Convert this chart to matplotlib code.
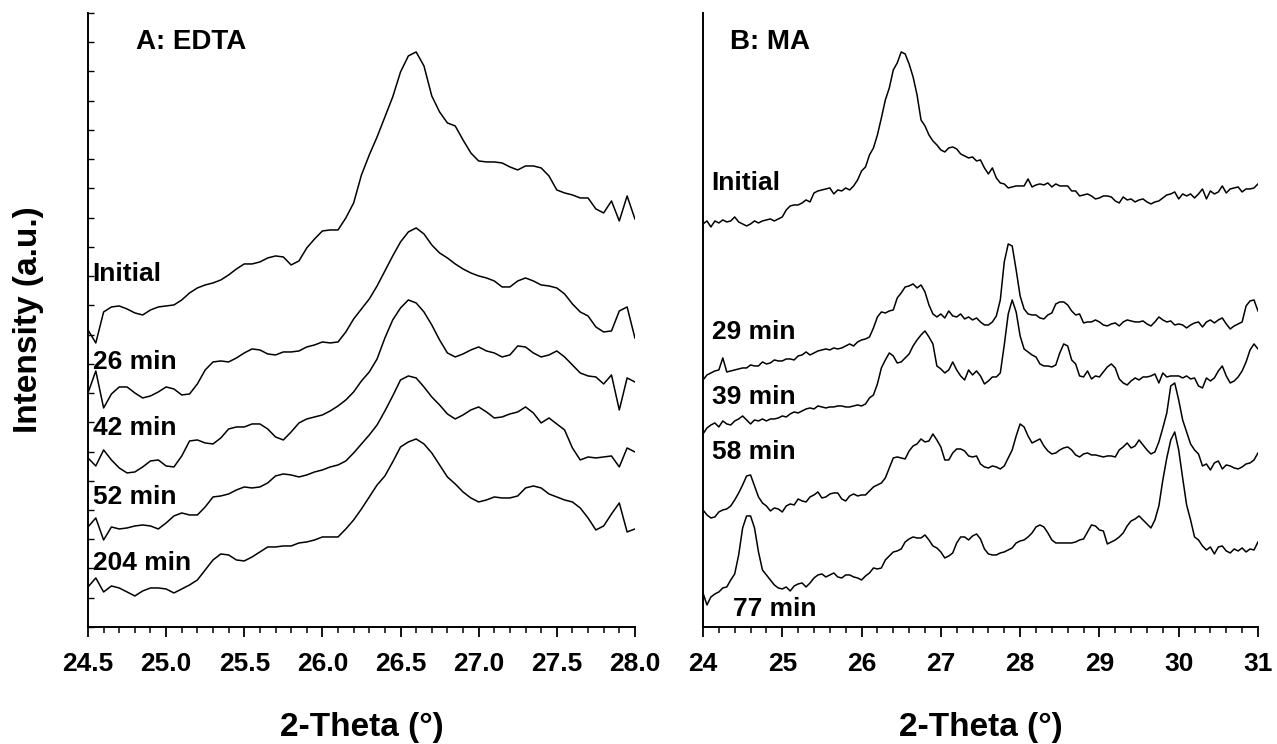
import numpy as np
import matplotlib
matplotlib.use('Agg')
import matplotlib.pyplot as plt
from matplotlib.ticker import MultipleLocator, FormatStrFormatter

plt.rcParams['font.family'] = ['Liberation Sans', 'DejaVu Sans']
plt.rcParams['font.weight'] = 'bold'

# A: EDTA, 2-theta 24.5-28.0 in 0.05 steps
theta_edta = np.linspace(24.5, 28.0, 71)
edta_initial = [297, 284, 315, 320, 321, 318, 314, 312, 317, 320,
                321, 322, 327, 334, 339, 342, 344, 347, 352, 358,
                363, 363, 365, 369, 371, 370, 362, 366, 379, 388,
                396, 397, 397, 409, 424, 452, 472, 490, 510, 530,
                555, 571, 575, 561, 531, 515, 504, 501, 487, 474,
                466, 465, 465, 464, 460, 457, 461, 461, 459, 451,
                437, 434, 432, 429, 429, 418, 414, 426, 406, 431, 408]
edta_26 = [234, 256, 219, 233, 240, 240, 234, 229, 231, 235,
           240, 238, 232, 233, 243, 257, 265, 266, 265, 269,
           274, 278, 277, 273, 272, 275, 275, 276, 280, 282,
           285, 284, 285, 295, 308, 318, 328, 341, 356, 371,
           385, 395, 399, 393, 382, 374, 369, 363, 358, 354,
           351, 349, 346, 340, 340, 346, 349, 346, 342, 341,
           339, 333, 323, 315, 311, 300, 295, 296, 316, 320, 289]
edta_42 = [169, 161, 177, 167, 159, 154, 155, 160, 166, 167,
           161, 160, 171, 186, 187, 184, 183, 189, 198, 200,
           200, 203, 203, 198, 190, 187, 195, 204, 208, 210,
           212, 216, 221, 227, 235, 246, 255, 268, 289, 307,
           319, 327, 324, 315, 302, 287, 274, 270, 273, 277,
           280, 276, 274, 270, 272, 281, 280, 274, 270, 272,
           276, 270, 262, 254, 251, 250, 243, 252, 217, 249, 245]
edta_52 = [100, 109, 87, 100, 98, 99, 101, 102, 101, 98,
           104, 111, 114, 112, 112, 120, 130, 131, 133, 137,
           140, 139, 140, 144, 151, 153, 152, 150, 152, 155,
           157, 160, 162, 166, 174, 183, 192, 202, 216, 231,
           247, 251, 249, 240, 230, 222, 213, 208, 212, 217,
           220, 215, 209, 210, 213, 215, 220, 214, 204, 209,
           203, 197, 179, 167, 170, 169, 170, 171, 160, 179, 175]
edta_204 = [40, 49, 35, 41, 39, 35, 31, 36, 39, 39,
            38, 34, 38, 42, 47, 57, 67, 73, 72, 67,
            66, 70, 75, 80, 80, 81, 81, 84, 85, 87,
            90, 90, 90, 98, 107, 118, 130, 142, 151, 165,
            180, 185, 188, 183, 174, 162, 150, 143, 135, 129,
            125, 127, 130, 129, 129, 131, 139, 141, 139, 133,
            130, 127, 125, 119, 109, 97, 101, 113, 124, 95, 98]

# B: MA, 2-theta 24-31 in 0.05 steps
theta_ma = np.linspace(24.0, 31.0, 141)
ma_initial = [403, 406, 400, 406, 404, 407, 405, 406, 410, 405,
              403, 401, 403, 406, 404, 406, 407, 408, 406, 408,
              410, 417, 421, 422, 422, 424, 427, 425, 434, 436,
              437, 438, 439, 433, 437, 436, 439, 437, 441, 447,
              456, 460, 472, 479, 492, 509, 527, 539, 557, 564,
              575, 573, 563, 550, 532, 507, 501, 492, 486, 482,
              477, 475, 479, 480, 478, 473, 471, 469, 470, 466,
              467, 459, 453, 459, 449, 444, 443, 439, 440, 441,
              441, 441, 448, 440, 442, 443, 442, 444, 440, 443,
              441, 441, 441, 436, 436, 431, 432, 433, 431, 428,
              429, 431, 431, 430, 426, 424, 430, 427, 428, 425,
              427, 428, 425, 423, 425, 426, 429, 432, 433, 435,
              428, 433, 431, 433, 429, 433, 438, 428, 436, 433,
              435, 441, 434, 438, 439, 440, 435, 438, 438, 439, 443]
ma_29 = [247, 252, 254, 256, 257, 269, 255, 256, 257, 258,
         259, 259, 262, 261, 261, 265, 263, 264, 267, 266,
         266, 268, 268, 267, 271, 272, 275, 272, 274, 276,
         277, 278, 277, 279, 278, 279, 281, 283, 281, 285,
         287, 288, 290, 299, 310, 315, 314, 316, 317, 329,
         334, 340, 341, 343, 339, 342, 335, 322, 313, 310,
         313, 309, 316, 311, 310, 313, 308, 310, 307, 309,
         305, 302, 302, 305, 311, 327, 365, 383, 381, 357,
         331, 318, 313, 312, 312, 309, 308, 312, 314, 323,
         325, 325, 322, 316, 312, 313, 304, 305, 305, 307,
         305, 302, 301, 303, 304, 301, 305, 307, 306, 305,
         305, 306, 303, 301, 305, 310, 307, 305, 306, 302,
         303, 302, 299, 302, 304, 305, 300, 305, 307, 304,
         307, 309, 303, 298, 301, 303, 305, 321, 326, 327, 316]
ma_39 = [193, 199, 202, 204, 200, 206, 203, 202, 206, 208,
         211, 207, 203, 207, 206, 208, 206, 208, 208, 209,
         211, 210, 213, 215, 214, 216, 218, 219, 218, 221,
         220, 219, 220, 220, 221, 221, 220, 220, 221, 222,
         221, 223, 229, 232, 243, 259, 267, 274, 271, 264,
         265, 269, 273, 281, 287, 292, 296, 290, 283, 261,
         258, 254, 257, 265, 257, 251, 247, 257, 252, 256,
         251, 243, 246, 250, 250, 254, 282, 313, 327, 315,
         291, 278, 275, 272, 270, 263, 261, 261, 260, 262,
         274, 283, 281, 267, 263, 251, 250, 256, 248, 251,
         250, 255, 260, 263, 259, 248, 244, 242, 246, 249,
         247, 250, 250, 251, 253, 244, 254, 250, 251, 251,
         251, 249, 251, 248, 249, 241, 239, 249, 246, 249,
         256, 261, 251, 244, 246, 250, 256, 265, 277, 283, 278]
ma_58 = [117, 112, 109, 110, 115, 117, 118, 121, 127, 134,
         142, 151, 152, 141, 130, 124, 121, 116, 119, 118,
         115, 121, 123, 122, 128, 126, 125, 130, 132, 135,
         129, 130, 133, 134, 134, 128, 126, 131, 133, 131,
         132, 132, 136, 140, 142, 144, 149, 159, 169, 170,
         169, 168, 176, 181, 183, 188, 185, 186, 193, 187,
         180, 167, 167, 174, 178, 178, 176, 171, 170, 171,
         163, 160, 159, 161, 160, 158, 161, 169, 177, 191,
         203, 200, 191, 184, 186, 188, 181, 176, 173, 174,
         177, 179, 180, 177, 172, 170, 173, 174, 172, 172,
         171, 170, 171, 171, 170, 177, 180, 184, 179, 181,
         187, 182, 177, 173, 175, 185, 199, 214, 241, 244,
         227, 207, 195, 183, 177, 173, 161, 163, 157, 164,
         166, 158, 162, 161, 159, 158, 160, 163, 164, 167, 174]
ma_77 = [34, 22, 30, 33, 35, 39, 40, 47, 53, 72,
         99, 111, 111, 99, 75, 57, 52, 47, 42, 39,
         38, 40, 36, 41, 43, 44, 40, 44, 49, 52,
         53, 50, 52, 54, 50, 49, 52, 52, 50, 49,
         47, 51, 54, 59, 58, 59, 67, 71, 75, 76,
         78, 85, 88, 90, 89, 89, 92, 87, 81, 79,
         75, 69, 71, 74, 84, 90, 90, 87, 91, 93,
         88, 78, 73, 72, 72, 74, 75, 77, 79, 84,
         86, 87, 90, 94, 100, 102, 100, 94, 87, 84,
         84, 84, 84, 84, 85, 87, 88, 95, 102, 101,
         97, 96, 83, 85, 87, 90, 94, 101, 106, 108,
         111, 107, 103, 99, 107, 121, 147, 169, 187, 195,
         177, 149, 122, 107, 90, 87, 81, 77, 80, 73,
         80, 81, 76, 74, 78, 76, 79, 75, 78, 77, 85]

edta_series = [edta_initial, edta_26, edta_42, edta_52, edta_204]
edta_names = ['Initial', '26 min', '42 min', '52 min', '204 min']
edta_label_y = [353, 265, 199, 130, 64]

ma_series = [ma_initial, ma_29, ma_39, ma_58, ma_77]
ma_names = ['Initial', '29 min', '39 min', '58 min', '77 min']
ma_label_xy = [(24.11, 444), (24.11, 295), (24.11, 230), (24.11, 175), (24.38, 18)]

YMAX = 614

fig = plt.figure(figsize=(12.77, 7.44), dpi=100)
ax1 = fig.add_axes([0.0689, 0.1573, 0.4283, 0.8253])
ax2 = fig.add_axes([0.5505, 0.1573, 0.4346, 0.8253])

for ax in (ax1, ax2):
    ax.spines['top'].set_visible(False)
    ax.spines['right'].set_visible(False)
    ax.spines['left'].set_linewidth(1.4)
    ax.spines['bottom'].set_linewidth(1.4)
    ax.set_ylim(0, YMAX)
    ax.tick_params(axis='x', which='major', direction='out', length=7,
                   width=1.3, labelsize=19, pad=11)
    ax.tick_params(axis='x', which='minor', direction='out', length=4.5,
                   width=1.1)
    ax.set_xlabel('2-Theta (°)', fontsize=24, fontweight='bold', va='center')
    ax.xaxis.set_label_coords(0.5, -0.163)

# A: EDTA
for y in edta_series:
    ax1.plot(theta_edta, y, color='black', lw=1.1)
for name, ly in zip(edta_names, edta_label_y):
    ax1.text(24.53, ly, name, fontsize=19, fontweight='bold', va='center', ha='left')
ax1.text(24.81, 585, 'A: EDTA', fontsize=20, fontweight='bold', va='center', ha='left')

ax1.set_xlim(24.5, 28.0)
ax1.xaxis.set_major_locator(MultipleLocator(0.5))
ax1.xaxis.set_minor_locator(MultipleLocator(0.1))
ax1.xaxis.set_major_formatter(FormatStrFormatter('%.1f'))
ax1.set_yticks(np.linspace(0, YMAX, 22))
ax1.set_yticklabels([])
ax1.tick_params(axis='y', direction='in', length=4, width=1.0)
ax1.set_ylabel('Intensity (a.u.)', fontsize=24, fontweight='bold', labelpad=28)

# B: MA
for y in ma_series:
    ax2.plot(theta_ma, y, color='black', lw=1.1)
for name, (lx, ly) in zip(ma_names, ma_label_xy):
    ax2.text(lx, ly, name, fontsize=19, fontweight='bold', va='center', ha='left')
ax2.text(24.34, 585, 'B: MA', fontsize=20, fontweight='bold', va='center', ha='left')

ax2.set_xlim(24, 31)
ax2.xaxis.set_major_locator(MultipleLocator(1))
ax2.xaxis.set_minor_locator(MultipleLocator(0.2))
ax2.set_yticks([])

fig.savefig('out.png', dpi=100)
